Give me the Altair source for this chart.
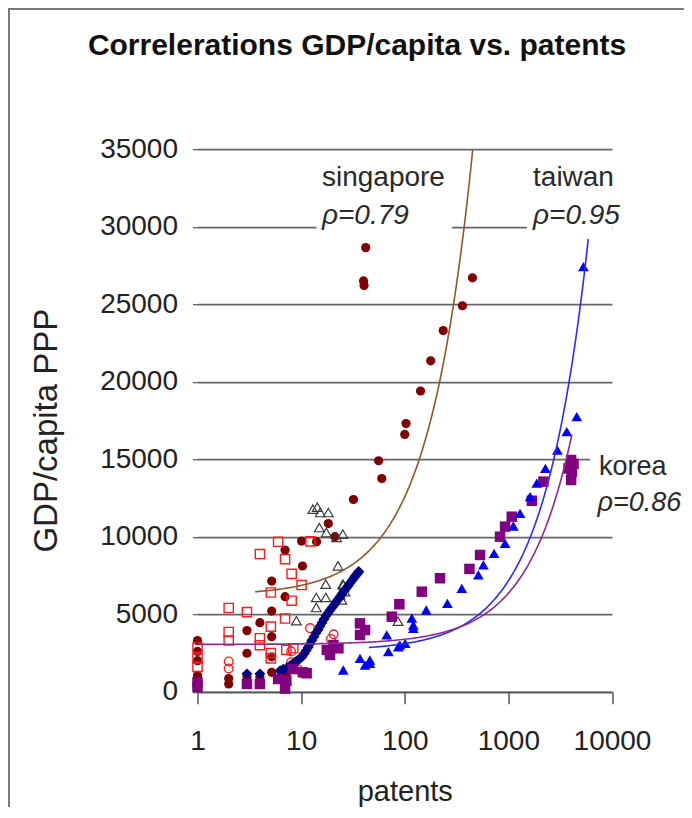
import altair as alt
import pandas as pd
import numpy as np

FONT = "Liberation Sans"

# ---------------- data ----------------
# singapore (dark red filled circles)
sg_patents = [42, 40, 40.5, 450, 360, 235, 178, 142, 103, 100, 56, 60, 32,
              18.3, 21.2, 14.1, 10.1, 7.0, 10.3, 5.2, 7.0, 5.2, 4.0, 3.0, 5.2, 3.0, 5.2,
              2.0, 2.0, 3.0, 4.0, 1, 1, 1, 1, 5.2, 7.2]
sg_gdp = [28650, 26500, 26200, 26700, 24900, 23300, 21350, 19400, 17300, 16600, 14900, 13750, 12400,
          10850, 10000, 9680, 9720, 9140, 8110, 7140, 6130, 5200, 4450, 3940, 3550, 2480, 2250,
          850, 500, 950, 950, 3300, 2600, 2000, 1050, 1250, 1150]

# red open squares
sq_patents = [6.0, 4.0, 7.0, 8.1, 10.1, 5.1, 8.1, 2.0, 3.0, 7.0, 5.1, 2.0, 2.0, 4.0, 4.0,
              5.1, 5.1, 7.2, 8.4, 1, 1, 1, 12.3]
sq_gdp = [9670, 8880, 8550, 7600, 6880, 6400, 5870, 5400, 5130, 4720, 4200, 3850, 3300, 3450, 3000,
          2500, 2150, 2700, 2800, 2850, 2150, 1600, 9700]

# red open circles
rc_patents = [12.2, 20.6, 19.4, 2.0, 8.6, 9.3, 8.0, 8.0, 2.0]
rc_gdp = [4100, 3700, 3400, 1950, 1800, 1450, 2600, 1900, 1500]

# grey open triangles
gt_patents = [13.0, 14.3, 15.3, 18.3, 15.0, 17.5, 25.3, 22.0, 22.7, 17.3, 25.3, 14.0, 17.3, 14.0,
              9.0, 23.7, 26.5, 24.7, 25.5, 86]
gt_gdp = [11780, 11900, 11560, 11560, 10590, 10270, 10170, 9950, 8120, 6940, 6940, 6080, 6080, 5430,
          4580, 6240, 6450, 5920, 6880, 4550]

# navy filled diamonds (dense band)
nv_patents = [3.0, 4.0, 6.26, 6.7, 7.31, 7.8, 8.35, 8.8, 9.33, 9.8, 10.2, 10.7, 11.2, 11.7, 12.2, 12.7,
              13.3, 13.9, 14.6, 15.2, 15.9, 16.6, 17.4, 18.2, 19.0, 19.9, 20.8, 21.7, 22.7, 23.7,
              24.8, 25.9, 27.1, 28.3, 29.6, 31.0, 32.4, 33.5, 34.6, 35.5, 36.0]
nv_gdp = [1150, 1150, 1350, 1450, 1550, 1680, 1800, 1920, 2050, 2150, 2250, 2450, 2650, 2870, 3100, 3320,
          3550, 3780, 4000, 4220, 4450, 4680, 4900, 5080, 5250, 5430, 5600, 5780, 5950, 6120,
          6300, 6480, 6650, 6820, 7000, 7180, 7350, 7480, 7600, 7680, 7750]

# korea (purple filled squares)
kr_patents = [4030, 4250, 3800, 4100, 4030, 2177, 1683, 1078, 929, 831, 533, 421, 219, 146, 88.7, 74.9,
              37, 41.4, 37, 20.5, 17.7, 19, 22.9, 11.3, 1, 1, 3.0, 4.0, 6.0, 7.2, 10.4, 8.3, 7.0]
kr_gdp = [14950, 14700, 14400, 14200, 13660, 13550, 12320, 11290, 10650, 10000, 8820, 7920, 7320, 6450,
          5640, 4840, 4410, 3980, 3660, 3010, 2690, 2370, 2800, 1190, 300, 600, 500, 500, 820, 700,
          1250, 1460, 200]

# taiwan (blue filled triangles)
tw_patents = [5300, 4570, 3660, 2970, 2275, 1880, 1620, 1296, 1117, 929, 728, 574, 513, 355, 258, 161,
              117, 121, 121, 67, 69.5, 86.7, 101, 89.8, 46.2, 37, 46, 41.4, 25.5]
tw_gdp = [27420, 17740, 16780, 15590, 14410, 13450, 12580, 11510, 10690, 9575, 8930, 8175, 7530, 6670,
          5700, 5270, 4740, 4300, 4090, 3660, 2580, 2900, 3120, 3010, 1830, 2150, 2045, 1720, 1400]

# linear trend lines (y = a + b * patents) as shown in the original
trend_names = ["singapore", "taiwan", "korea"]
trend_intercept = [6220, 2650, 3050]
trend_slope = [63.5, 4.5, 3.3]
trend_from = [3.6, 45, 1]
trend_to = [453, 5900, 4100]
trend_colors = ["#8b5a2b", "#2b2bff", "#8e2a8e"]

# annotation labels
label_text = ["singapore", "ρ=0.79", "taiwan", "ρ=0.95", "korea", "ρ=0.86"]
label_patents = [15.9, 15.9, 1730, 1730, 7500, 7250]
label_gdp = [32600, 30200, 32600, 30200, 13980, 11660]
label_italic = [False, True, False, True, False, True]
label_size = [28, 28, 28, 28, 27, 27]

# white boxes behind labels (hide grid lines)
box_x = [14.1, 1506, 6150]
box_x2 = [285, 10000, 10000]
box_y = [29300, 29500, 13000]
box_y2 = [34000, 34000, 16500]

y_ticks = [0, 5000, 10000, 15000, 20000, 25000, 30000, 35000]
x_ticks = [1, 10, 100, 1000, 10000]

# ---------------- encodings ----------------
x_scale = alt.Scale(type="log", domain=[1, 10000], nice=False)
y_scale = alt.Scale(domain=[0, 35000], nice=False, zero=False)

x_axis = alt.Axis(values=x_ticks, format="d", title="patents", grid=False,
                  labelFontSize=28, labelFont=FONT, labelColor="#222", labelPadding=24,
                  labelFlush=False, labelOverlap=False,
                  tickSize=12, tickColor="#555", tickWidth=1.5,
                  domainColor="#555", domainWidth=1.5,
                  titleFontSize=29, titleFont=FONT, titleFontWeight="normal", titleColor="#222",
                  titleY=109, titleBaseline="alphabetic")
y_axis = alt.Axis(values=y_ticks, format="d", title="GDP/capita PPP", grid=True,
                  gridColor="#666666", gridWidth=1.7, domain=False,
                  labelFontSize=28, labelFont=FONT, labelColor="#222", labelPadding=15,
                  labelFlush=False, labelOverlap=False,
                  tickSize=5, tickColor="#555", tickWidth=1.2,
                  titleFontSize=33, titleFont=FONT, titleFontWeight="normal", titleColor="#222",
                  titleX=-141, titleY=281, titleAngle=-90, titleAlign="center",
                  titleBaseline="alphabetic")

X = alt.X("patents:Q", scale=x_scale, axis=x_axis)
Y = alt.Y("gdp:Q", scale=y_scale, axis=y_axis)


def df(px, gy):
    return pd.DataFrame({"patents": px, "gdp": gy})


frame = alt.Chart(pd.DataFrame({"k": [0]})).mark_rect(
    filled=False, stroke="#7a7a7a", strokeWidth=2
).encode(x=alt.value(-188.5), x2=alt.value(700), y=alt.value(-140.2), y2=alt.value(900))

boxes = alt.Chart(pd.DataFrame({"patents": box_x, "p2": box_x2, "gdp": box_y, "g2": box_y2})).mark_rect(
    fill="white", stroke=None
).encode(x=X, x2="p2:Q", y=Y, y2="g2:Q")

sg = alt.Chart(df(sg_patents, sg_gdp)).mark_point(
    shape="circle", filled=True, color="#800000", size=85, opacity=1).encode(x=X, y=Y)
sq = alt.Chart(df(sq_patents, sq_gdp)).mark_point(
    shape="square", filled=False, color="#ff1a1a", size=85, strokeWidth=1.4, opacity=1).encode(x=X, y=Y)
gt = alt.Chart(df(gt_patents, gt_gdp)).mark_point(
    shape="triangle-up", filled=False, color="#3a3a3a", size=95, strokeWidth=1.2, opacity=1).encode(x=X, y=Y)
rc = alt.Chart(df(rc_patents, rc_gdp)).mark_point(
    shape="circle", filled=False, color="#ff1a1a", size=75, strokeWidth=1.4, opacity=1).encode(x=X, y=Y)
nv = alt.Chart(df(nv_patents, nv_gdp)).mark_point(
    shape="diamond", filled=True, color="#000080", size=120, opacity=1).encode(x=X, y=Y)
kr = alt.Chart(df(kr_patents, kr_gdp)).mark_point(
    shape="square", filled=True, color="#800080", size=110, opacity=1).encode(x=X, y=Y)
tw = alt.Chart(df(tw_patents, tw_gdp)).mark_point(
    shape="triangle-up", filled=True, color="#0000ff", size=115, opacity=1).encode(x=X, y=Y)

trend_layers = []
for name, a, b, lo, hi, col in zip(trend_names, trend_intercept, trend_slope, trend_from, trend_to, trend_colors):
    xs = np.logspace(np.log10(lo), np.log10(hi), 160)
    tdf = pd.DataFrame({"patents": xs, "gdp": a + b * xs})
    trend_layers.append(
        alt.Chart(tdf).mark_line(color=col, strokeWidth=1.6, clip=True).encode(x=X, y=Y)
    )

lab = pd.DataFrame({"label": label_text, "patents": label_patents, "gdp": label_gdp,
                    "italic": label_italic, "size": label_size})
lab_normal = alt.Chart(lab[~lab["italic"]]).mark_text(
    align="left", baseline="alphabetic", font=FONT, color="#2a2a2a"
).encode(x=X, y=Y, text="label:N", size=alt.Size("size:Q", scale=None, legend=None))
lab_italic = alt.Chart(lab[lab["italic"]]).mark_text(
    align="left", baseline="alphabetic", font=FONT, fontStyle="italic", color="#2a2a2a"
).encode(x=X, y=Y, text="label:N", size=alt.Size("size:Q", scale=None, legend=None))

title = alt.Chart(pd.DataFrame({"t": ["Correlerations GDP/capita vs. patents"]})).mark_text(
    align="center", baseline="alphabetic", font=FONT, fontSize=30, fontWeight="bold", color="#111"
).encode(x=alt.value(159.5), y=alt.value(-94.2), text="t:N")

chart = alt.layer(
    frame, boxes, sg, sq, gt, rc, nv, kr, tw, *trend_layers, lab_normal, lab_italic, title
).properties(
    width=414.5, height=542.5,
    autosize=alt.AutoSizeParams(type="none"),
    padding={"left": 189.5, "top": 141.2, "right": 72, "bottom": 115},
    background="white",
).configure_view(stroke=None)

chart.save("out.html", embed_options={"renderer": "svg", "actions": False})
